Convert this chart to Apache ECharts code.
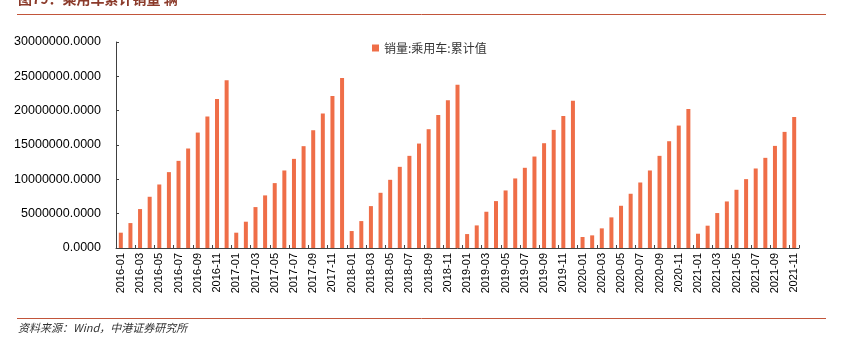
<!DOCTYPE html>
<html>
<head>
<meta charset="utf-8">
<script src="https://cdn.jsdelivr.net/npm/echarts@6/dist/echarts.min.js"></script>
<style>
  html, body { margin: 0; padding: 0; background: #fff; }
  #chart { width: 841px; height: 344px; }
</style>
</head>
<body>
<div id="chart"></div>
<script>
// Monthly categories 2016-01 .. 2021-11
const months = [
  '2016-01','2016-02','2016-03','2016-04','2016-05','2016-06','2016-07','2016-08','2016-09','2016-10','2016-11','2016-12',
  '2017-01','2017-02','2017-03','2017-04','2017-05','2017-06','2017-07','2017-08','2017-09','2017-10','2017-11','2017-12',
  '2018-01','2018-02','2018-03','2018-04','2018-05','2018-06','2018-07','2018-08','2018-09','2018-10','2018-11','2018-12',
  '2019-01','2019-02','2019-03','2019-04','2019-05','2019-06','2019-07','2019-08','2019-09','2019-10','2019-11','2019-12',
  '2020-01','2020-02','2020-03','2020-04','2020-05','2020-06','2020-07','2020-08','2020-09','2020-10','2020-11','2020-12',
  '2021-01','2021-02','2021-03','2021-04','2021-05','2021-06','2021-07','2021-08','2021-09','2021-10','2021-11'
];

// Cumulative passenger-car sales (units), year-to-date
const sales2016 = [2230000, 3630000, 5670000, 7460000, 9250000, 11050000, 12690000, 14490000, 16810000, 19140000, 21710000, 24420000];
const sales2017 = [2230000, 3830000, 5960000, 7660000, 9450000, 11290000, 12980000, 14830000, 17150000, 19570000, 22140000, 24760000];
const sales2018 = [2470000, 3920000, 6100000, 8040000, 9930000, 11820000, 13420000, 15210000, 17300000, 19380000, 21510000, 23790000];
const sales2019 = [2030000, 3290000, 5280000, 6830000, 8380000, 10130000, 11680000, 13320000, 15260000, 17200000, 19230000, 21460000];
const sales2020 = [1600000, 1840000, 2860000, 4460000, 6150000, 7900000, 9540000, 11290000, 13420000, 15550000, 17830000, 20250000];
const sales2021 = [2080000, 3250000, 5090000, 6780000, 8480000, 10030000, 11580000, 13130000, 14870000, 16910000, 19090000];

const salesValues = [].concat(sales2016, sales2017, sales2018, sales2019, sales2020, sales2021);

// Y axis range
const yMin = 0;
const yMax = 30000000;
const yStep = 5000000;

const seriesName = '销量:乘用车:累计值';
const titleText = '图79：乘用车累计销量 辆';
const sourceText = '资料来源：Wind，中港证券研究所';

const latin = '"Liberation Sans", Arial, "Noto Sans CJK SC", sans-serif';
const cjk = '"Noto Sans CJK SC", "Liberation Sans", sans-serif';

const chart = echarts.init(document.getElementById('chart'), null, { renderer: 'canvas' });

chart.setOption({
  animation: false,
  backgroundColor: '#ffffff',
  grid: { left: 116, right: 42, top: 42, bottom: 96, containLabel: false },
  legend: {
    data: [seriesName],
    left: 367,
    top: 37,
    icon: 'rect',
    itemWidth: 7,
    itemHeight: 7,
    itemGap: 4,
    textStyle: { fontFamily: cjk, fontSize: 12, color: '#333333' }
  },
  xAxis: {
    type: 'category',
    data: months,
    boundaryGap: true,
    axisLine: { lineStyle: { color: '#404040', width: 1 } },
    axisTick: { show: true, inside: true, length: 3, interval: 1, lineStyle: { color: '#404040' } },
    axisLabel: {
      interval: 1,
      rotate: 90,
      margin: 5,
      fontFamily: latin,
      fontSize: 11,
      color: '#000000'
    },
    splitLine: { show: false }
  },
  yAxis: {
    type: 'value',
    min: yMin,
    max: yMax,
    interval: yStep,
    axisLine: { show: true, lineStyle: { color: '#404040', width: 1 } },
    axisTick: { show: true, inside: true, length: 3, lineStyle: { color: '#404040' } },
    axisLabel: {
      margin: 15,
      fontFamily: latin,
      fontSize: 12.5,
      color: '#000000',
      formatter: function (v) { return v.toFixed(4); }
    },
    splitLine: { show: false }
  },
  series: [{
    name: seriesName,
    type: 'bar',
    data: salesValues,
    barWidth: 4,
    itemStyle: { color: '#EF6E48' }
  }],
  graphic: [
    {
      type: 'text',
      left: 18,
      top: -8,
      style: { text: titleText, font: 'bold 14px ' + cjk, fill: '#8B3A2A' }
    },
    {
      type: 'line',
      shape: { x1: 17, y1: 14.5, x2: 826, y2: 14.5 },
      style: { stroke: '#C2553A', lineWidth: 1 }
    },
    {
      type: 'line',
      shape: { x1: 17, y1: 318.5, x2: 826, y2: 318.5 },
      style: { stroke: '#C2553A', lineWidth: 1 }
    },
    {
      type: 'text',
      left: 18,
      top: 322,
      style: { text: sourceText, font: 'italic 11px ' + cjk, fill: '#333333' }
    }
  ]
});
</script>
</body>
</html>
